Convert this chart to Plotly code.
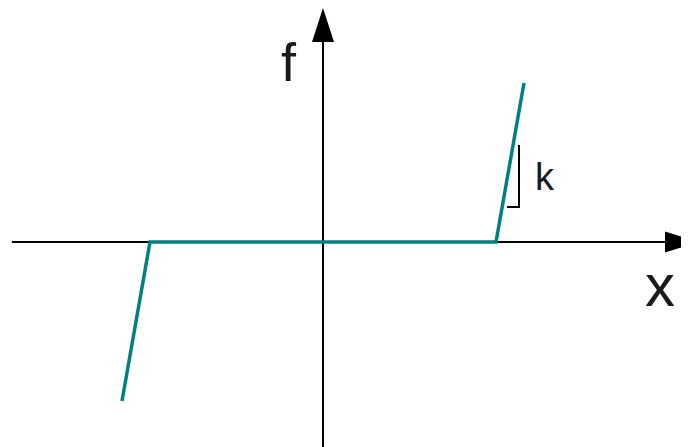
import plotly.graph_objects as go

# dead-zone characteristic f(x), one unit = 100 px
x_vals = [-2.01, -1.73, 1.73, 2.01]
f_vals = [-1.59, 0.0, 0.0, 1.59]

# slope marker next to the right branch
k_x = [1.84, 1.96, 1.96]
k_y = [0.35, 0.35, 0.97]

TEAL = "#008080"
FONT = "Liberation Sans, Arial, sans-serif"

fig = go.Figure()

# axes as plain lines
fig.add_trace(go.Scatter(x=[-3.11, 3.45], y=[0, 0], mode="lines",
                         line=dict(color="black", width=2), hoverinfo="skip"))
fig.add_trace(go.Scatter(x=[0, 0], y=[-2.2, 2.0], mode="lines",
                         line=dict(color="black", width=2), hoverinfo="skip"))

fig.add_trace(go.Scatter(x=k_x, y=k_y, mode="lines",
                         line=dict(color="black", width=2), hoverinfo="skip"))

fig.add_trace(go.Scatter(x=x_vals, y=f_vals, mode="lines",
                         line=dict(color=TEAL, width=3.5), hoverinfo="skip"))

# arrow heads
fig.add_shape(type="path", path="M 3.42 0.105 L 3.76 0 L 3.42 -0.105 Z",
              fillcolor="black", line=dict(width=0))
fig.add_shape(type="path", path="M -0.11 2.0 L 0 2.34 L 0.11 2.0 Z",
              fillcolor="black", line=dict(width=0))

fig.add_annotation(x=-0.34, y=1.80, text="f", showarrow=False,
                   font=dict(family=FONT, size=54, color="#1a1a1a"))
fig.add_annotation(x=3.37, y=-0.43, text="x", showarrow=False,
                   font=dict(family=FONT, size=60, color="#1a1a1a"))
fig.add_annotation(x=2.22, y=0.65, text="k", showarrow=False,
                   font=dict(family=FONT, size=38, color="#1a1a1a"))

# ranges shifted by the 8px page margin so the origin lands at (323, 242)
fig.update_layout(
    width=689, height=447,
    margin=dict(l=0, r=0, t=0, b=0),
    paper_bgcolor="white", plot_bgcolor="white",
    showlegend=False,
    xaxis=dict(range=[-3.15, 3.74], visible=False, fixedrange=True),
    yaxis=dict(range=[-2.13, 2.34], visible=False, fixedrange=True),
)

fig.write_html("out.html")
